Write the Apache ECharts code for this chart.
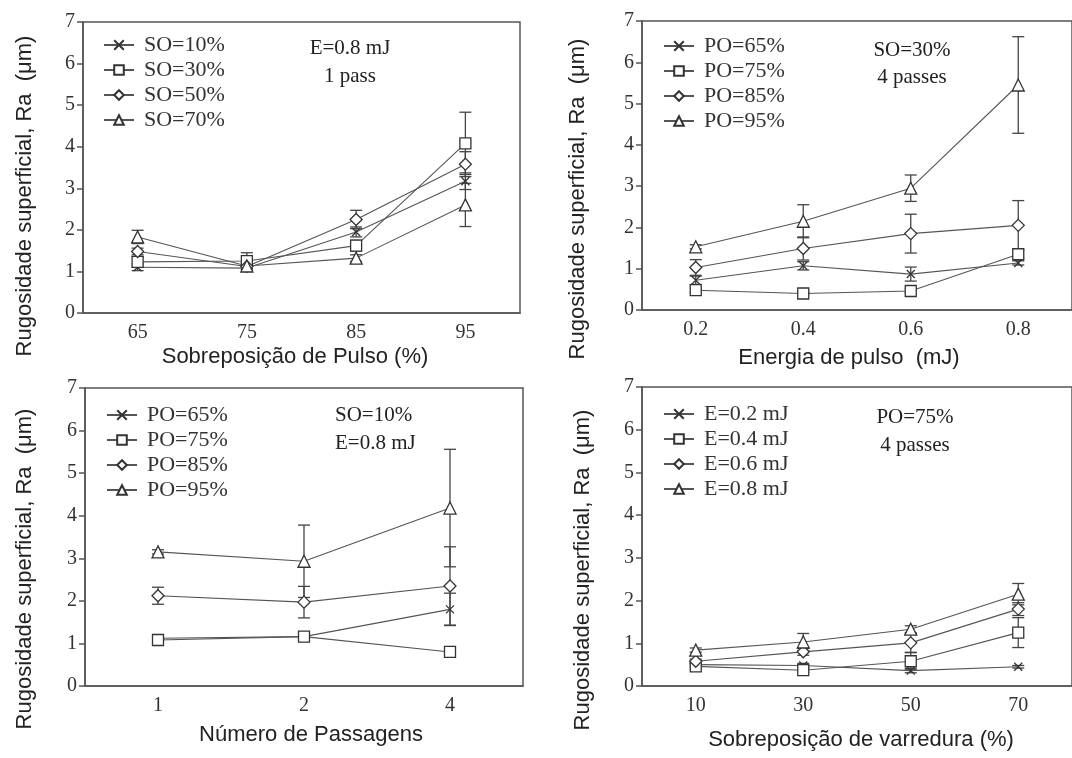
<!DOCTYPE html>
<html>
<head>
<meta charset="utf-8">
<script src="https://cdn.jsdelivr.net/npm/echarts@6/dist/echarts.min.js"></script>
<style>
  html, body { margin: 0; padding: 0; background: #fff; }
  #chart { width: 1072px; height: 758px; }
</style>
</head>
<body>
<div id="chart"></div>
<script>
// panel A: Sobreposição de Pulso
const pulseOverlap = ['65', '75', '85', '95'];
const soNames = ['SO=10%', 'SO=30%', 'SO=50%', 'SO=70%'];
const so10 = [1.10, 1.08, 1.95, 3.17];
const so30 = [1.23, 1.25, 1.62, 4.08];
const so50 = [1.48, 1.12, 2.25, 3.58];
const so70 = [1.83, 1.13, 1.32, 2.60];
const so10Err = [0.08, 0.06, 0.12, 0.20];
const so30Err = [0.12, 0.20, 0.13, 0.75];
const so50Err = [0.08, 0.05, 0.22, 0.30];
const so70Err = [0.16, 0.08, 0.08, 0.52];

// panel B: Energia de pulso
const pulseEnergy = ['0.2', '0.4', '0.6', '0.8'];
const poNames = ['PO=65%', 'PO=75%', 'PO=85%', 'PO=95%'];
const bPo65 = [0.72, 1.07, 0.87, 1.14];
const bPo75 = [0.48, 0.40, 0.46, 1.35];
const bPo85 = [1.03, 1.49, 1.85, 2.05];
const bPo95 = [1.53, 2.15, 2.95, 5.45];
const bPo65Err = [0.10, 0.10, 0.17, 0.05];
const bPo75Err = [0.05, 0.03, 0.05, 0.10];
const bPo85Err = [0.19, 0.28, 0.47, 0.60];
const bPo95Err = [0.05, 0.40, 0.32, 1.17];

// panel C: Número de Passagens
const passes = ['1', '2', '4'];
const cPo65 = [1.12, 1.16, 1.80];
const cPo75 = [1.08, 1.16, 0.80];
const cPo85 = [2.12, 1.97, 2.35];
const cPo95 = [3.15, 2.93, 4.18];
const cPo65Err = [0.05, 0.05, 0.38];
const cPo75Err = [0.10, 0.05, 0.05];
const cPo85Err = [0.20, 0.37, 0.92];
const cPo95Err = [0.05, 0.85, 1.38];

// panel D: Sobreposição de varredura
const scanOverlap = ['10', '30', '50', '70'];
const eNames = ['E=0.2 mJ', 'E=0.4 mJ', 'E=0.6 mJ', 'E=0.8 mJ'];
const e02 = [0.50, 0.48, 0.36, 0.45];
const e04 = [0.46, 0.37, 0.58, 1.25];
const e06 = [0.58, 0.80, 1.01, 1.80];
const e08 = [0.84, 1.03, 1.33, 2.15];
const e02Err = [0.03, 0.05, 0.05, 0.03];
const e04Err = [0.05, 0.05, 0.20, 0.35];
const e06Err = [0.05, 0.08, 0.22, 0.15];
const e08Err = [0.05, 0.20, 0.08, 0.25];

const yTicks = [0, 1, 2, 3, 4, 5, 6, 7];

const SERIF = '"Liberation Serif", "DejaVu Serif", serif';
const SANS = '"Liberation Sans", Arial, sans-serif';
const INK = '#333';

const crossPath = 'path://M0,0L10,10M0,10L10,0';
const symbols = [crossPath, 'rect', 'diamond', 'triangle'];
const symbolSizes = [8, 11, 12, 12];

const panels = [
  { cats: pulseOverlap, names: soNames, vals: [so10, so30, so50, so70], errs: [so10Err, so30Err, so50Err, so70Err],
    grid: { left: 83, top: 22, width: 437, height: 291 }, legend: { left: 98, top: 29 } },
  { cats: pulseEnergy, names: poNames, vals: [bPo65, bPo75, bPo85, bPo95], errs: [bPo65Err, bPo75Err, bPo85Err, bPo95Err],
    grid: { left: 642, top: 21, width: 434, height: 289 }, legend: { left: 658, top: 30 } },
  { cats: passes, names: poNames, vals: [cPo65, cPo75, cPo85, cPo95], errs: [cPo65Err, cPo75Err, cPo85Err, cPo95Err],
    grid: { left: 85, top: 388, width: 438, height: 298 }, legend: { left: 101, top: 399 } },
  { cats: scanOverlap, names: eNames, vals: [e02, e04, e06, e08], errs: [e02Err, e04Err, e06Err, e08Err],
    grid: { left: 642, top: 387, width: 438, height: 299 }, legend: { left: 658, top: 398 } }
];

const grids = [], xAxes = [], yAxes = [], legends = [], series = [];

panels.forEach((p, k) => {
  grids.push(Object.assign({ show: true, borderColor: '#555', borderWidth: 1.5, backgroundColor: 'transparent' }, p.grid));
  xAxes.push({
    gridIndex: k,
    type: 'category',
    data: p.cats,
    boundaryGap: true,
    axisLine: { lineStyle: { color: '#555', width: 1.5 } },
    axisTick: { alignWithLabel: true, length: 6, lineStyle: { color: '#555', width: 1.5 } },
    axisLabel: { color: INK, fontFamily: SERIF, fontSize: 20, margin: 10 },
    splitLine: { show: false }
  });
  yAxes.push({
    gridIndex: k,
    type: 'value',
    min: yTicks[0],
    max: yTicks[yTicks.length - 1],
    interval: 1,
    axisLine: { show: true, lineStyle: { color: '#555', width: 1.5 } },
    axisTick: { show: true, length: 6, lineStyle: { color: '#555', width: 1.5 } },
    axisLabel: { color: INK, fontFamily: SERIF, fontSize: 20, margin: 8 },
    splitLine: { show: false }
  });
  legends.push({
    orient: 'vertical',
    left: p.legend.left,
    top: p.legend.top,
    data: p.names.map(n => n + '#' + k),
    formatter: name => name.split('#')[0],
    itemWidth: 30,
    itemHeight: 12,
    itemGap: 3,
    selectedMode: false,
    textStyle: { color: INK, fontFamily: SERIF, fontSize: 22, lineHeight: 21, padding: [0, 0, 0, 5] }
  });
  p.vals.forEach((vals, s) => {
    const errData = vals.map((v, i) => [i, v - p.errs[s][i], v + p.errs[s][i]]);
    series.push({
      type: 'custom',
      xAxisIndex: k,
      yAxisIndex: k,
      z: 1,
      silent: true,
      data: errData,
      renderItem: (params, api) => {
        const lo = api.coord([api.value(0), api.value(1)]);
        const hi = api.coord([api.value(0), api.value(2)]);
        const w = 6;
        const st = { stroke: '#444', lineWidth: 1.3 };
        return {
          type: 'group',
          children: [
            { type: 'line', shape: { x1: lo[0], y1: lo[1], x2: hi[0], y2: hi[1] }, style: st },
            { type: 'line', shape: { x1: hi[0] - w, y1: hi[1], x2: hi[0] + w, y2: hi[1] }, style: st },
            { type: 'line', shape: { x1: lo[0] - w, y1: lo[1], x2: lo[0] + w, y2: lo[1] }, style: st }
          ]
        };
      }
    });
    series.push({
      name: p.names[s] + '#' + k,
      type: 'line',
      xAxisIndex: k,
      yAxisIndex: k,
      z: 3,
      data: vals,
      symbol: symbols[s],
      symbolSize: symbolSizes[s],
      showAllSymbol: true,
      lineStyle: { color: '#555', width: 1.1 },
      itemStyle: { color: '#fff', borderColor: '#333', borderWidth: 1.3 },
      emphasis: { disabled: true },
      animation: false
    });
  });
});

function txt(x, y, text, font, rot, align) {
  return {
    type: 'text',
    x: x, y: y,
    rotation: rot || 0,
    style: { text: text, font: font, fill: '#222', textAlign: align || 'center', textVerticalAlign: 'middle' }
  };
}

const ann = '21px ' + SERIF;
const ttl = '22px ' + SANS;
const graphics = [
  txt(350, 48, 'E=0.8 mJ', ann), txt(350, 76, '1 pass', ann),
  txt(912, 50, 'SO=30%', ann), txt(912, 77, '4 passes', ann),
  txt(335, 415, 'SO=10%', ann, 0, 'left'), txt(335, 443, 'E=0.8 mJ', ann, 0, 'left'),
  txt(915, 417, 'PO=75%', ann), txt(915, 445, '4 passes', ann),
  txt(295, 357, 'Sobreposição de Pulso (%)', ttl),
  txt(849, 358, 'Energia de pulso  (mJ)', ttl),
  txt(311, 735, 'Número de Passagens', ttl),
  txt(861, 740, 'Sobreposição de varredura (%)', ttl),
  txt(25, 196, 'Rugosidade superficial, Ra  (μm)', ttl, Math.PI / 2),
  txt(578, 199, 'Rugosidade superficial, Ra  (μm)', ttl, Math.PI / 2),
  txt(25, 569, 'Rugosidade superficial, Ra  (μm)', ttl, Math.PI / 2),
  txt(583, 570, 'Rugosidade superficial, Ra  (μm)', ttl, Math.PI / 2)
];

const chart = echarts.init(document.getElementById('chart'));
chart.setOption({
  animation: false,
  backgroundColor: '#fff',
  grid: grids,
  xAxis: xAxes,
  yAxis: yAxes,
  legend: legends,
  series: series,
  graphic: graphics
});
</script>
</body>
</html>
